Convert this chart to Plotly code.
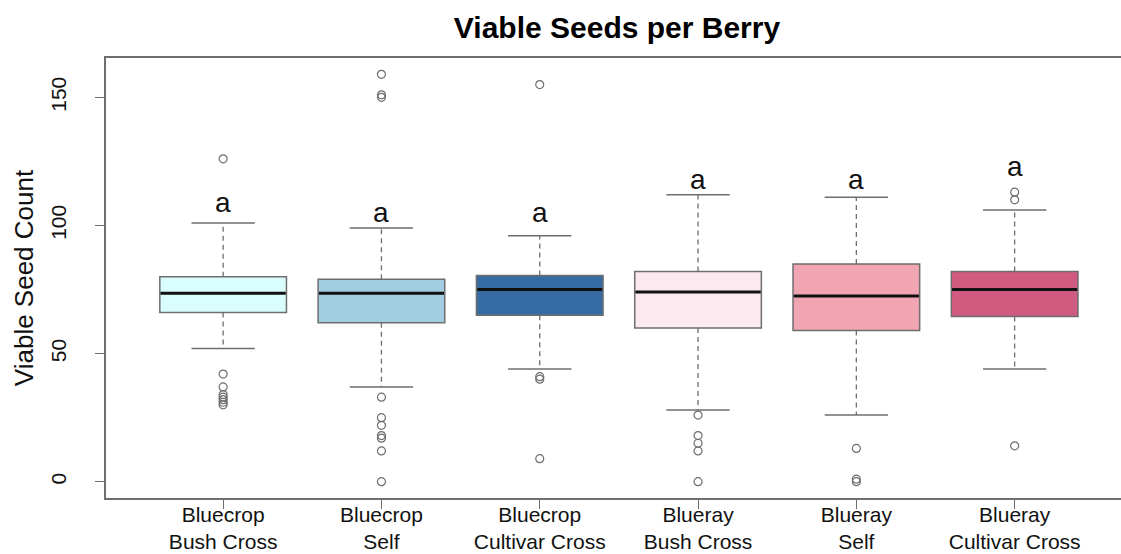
import plotly.graph_objects as go

categories = ["Bluecrop<br>Bush Cross", "Bluecrop<br>Self", "Bluecrop<br>Cultivar Cross",
              "Blueray<br>Bush Cross", "Blueray<br>Self", "Blueray<br>Cultivar Cross"]
q1 = [66, 62, 65, 60, 59, 64.5]
median = [73.5, 73.5, 75, 74, 72.5, 75]
q3 = [80, 79, 80.5, 82, 85, 82]
lower_whisker = [52, 37, 44, 28, 26, 44]
upper_whisker = [101, 99, 96, 112, 111, 106]
outliers = [
    [126, 42, 37, 34, 33, 32, 31, 30],
    [159, 151, 150, 33, 25, 22, 18, 17, 12, 0],
    [155, 41, 40, 9],
    [26, 18, 15, 12, 0],
    [13, 1, 0],
    [113, 110, 14],
]
letters = ["a", "a", "a", "a", "a", "a"]
letter_y = [109, 105, 105, 118, 118, 123]
fill_colors = ["#DAFEFE", "#A1CDE0", "#376BA4", "#FCE9F0", "#F1A5B2", "#D15A80"]

positions = list(range(1, len(categories) + 1))
BOX_W = 0.8
CAP_W = 0.4
GRAY = "#6e6e6e"

fig = go.Figure()

for i, x in enumerate(positions):
    fig.add_trace(go.Box(
        x=[x], q1=[q1[i]], median=[median[i]], q3=[q3[i]],
        lowerfence=[q1[i]], upperfence=[q3[i]],
        width=BOX_W, whiskerwidth=0,
        fillcolor=fill_colors[i],
        line=dict(color=GRAY, width=1.5),
        boxpoints=False, showlegend=False, hoverinfo="skip",
    ))
    # dashed whiskers
    fig.add_trace(go.Scatter(
        x=[x, x, None, x, x],
        y=[q3[i], upper_whisker[i], None, q1[i], lower_whisker[i]],
        mode="lines", line=dict(color=GRAY, width=1.3, dash="5px,4px"),
        showlegend=False, hoverinfo="skip",
    ))
    # caps
    fig.add_trace(go.Scatter(
        x=[x - CAP_W / 2, x + CAP_W / 2, None, x - CAP_W / 2, x + CAP_W / 2],
        y=[upper_whisker[i], upper_whisker[i], None, lower_whisker[i], lower_whisker[i]],
        mode="lines", line=dict(color=GRAY, width=1.5),
        showlegend=False, hoverinfo="skip",
    ))
    # median
    fig.add_trace(go.Scatter(
        x=[x - BOX_W / 2 + 0.005, x + BOX_W / 2 - 0.005],
        y=[median[i], median[i]],
        mode="lines", line=dict(color="#111111", width=3),
        showlegend=False, hoverinfo="skip",
    ))
    # outliers
    fig.add_trace(go.Scatter(
        x=[x] * len(outliers[i]), y=outliers[i],
        mode="markers",
        marker=dict(symbol="circle-open", size=8, color=GRAY, line=dict(width=1.2)),
        showlegend=False, hoverinfo="skip",
    ))
    fig.add_annotation(
        x=x, y=letter_y[i], text=letters[i], showarrow=False,
        font=dict(size=28, color="#111111", family="Liberation Sans, Arial, sans-serif"),
        xanchor="center", yanchor="middle",
    )

fig.update_layout(
    width=1121, height=554,
    margin=dict(l=106, r=0, t=58, b=56, autoexpand=False),
    paper_bgcolor="white", plot_bgcolor="white",
    font=dict(family="Liberation Sans, Arial, sans-serif", color="#111111"),
    title=dict(text="<b>Viable Seeds per Berry</b>", x=617 / 1121, xref="container",
               xanchor="center", y=1 - 27 / 554, yref="container", yanchor="middle",
               font=dict(size=30, color="#000000")),
)
fig.update_xaxes(
    range=[0.26, 0.26 + 1015 / 158.3], automargin=False,
    tickmode="array", tickvals=positions, ticktext=categories,
    ticks="outside", ticklen=9, tickcolor=GRAY, tickwidth=1.3,
    showline=True, linecolor=GRAY, linewidth=1.5, mirror=True,
    showgrid=False, zeroline=False, ticklabelstandoff=-12,
    tickfont=dict(size=21, color="#111111"),
)
fig.update_yaxes(
    range=[-6.36, 165.36], automargin=False,
    tickmode="array", tickvals=[0, 50, 100, 150],
    ticks="outside", ticklen=9, tickcolor=GRAY, tickwidth=1.3,
    showline=True, linecolor=GRAY, linewidth=1.5, mirror=False,
    showgrid=False, zeroline=False, tickangle=-90, ticklabelstandoff=21,
    tickfont=dict(size=21, color="#111111"),
    title=dict(text="Viable Seed Count", font=dict(size=26, color="#111111"), standoff=6),
)

fig.write_html("out.html", config={"displayModeBar": False},
               post_script="document.body.style.margin='0';document.body.style.overflow='hidden';")
